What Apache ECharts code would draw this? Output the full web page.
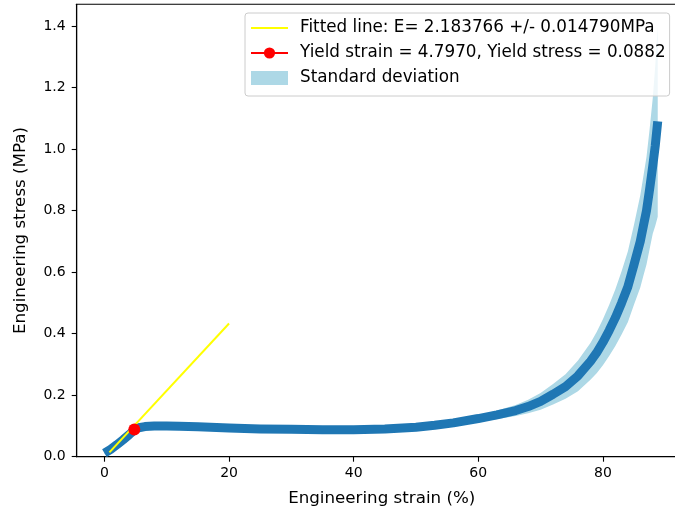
<!DOCTYPE html>
<html>
<head>
<meta charset="utf-8">
<script src="https://cdn.jsdelivr.net/npm/echarts@6/dist/echarts.min.js"></script>
<style>
html,body{margin:0;padding:0;background:#fff;}
#chart{width:675px;height:515px;}
</style>
</head>
<body>
<div id="chart"></div>
<script>
// ---- data ----
const strain = [0, 1, 2, 3, 4, 4.8, 5.5, 6.5, 8, 10, 12, 15, 20, 25, 30, 35, 40, 45, 50, 53, 56, 60, 63, 66, 68, 70, 72, 74, 76, 78, 79, 80, 81, 82, 83, 84, 85, 86, 86.5, 87, 87.5, 88, 88.4, 88.8];
const meanStress = [0.012, 0.024, 0.039, 0.055, 0.072, 0.087, 0.094, 0.098, 0.100, 0.100, 0.099, 0.097, 0.093, 0.090, 0.089, 0.088, 0.088, 0.090, 0.096, 0.102, 0.110, 0.124, 0.136, 0.150, 0.163, 0.180, 0.203, 0.228, 0.263, 0.310, 0.338, 0.372, 0.410, 0.452, 0.500, 0.552, 0.625, 0.700, 0.750, 0.800, 0.870, 0.945, 1.010, 1.090];
const stdStress = [0.004, 0.008, 0.014, 0.018, 0.018, 0.015, 0.010, 0.006, 0.004, 0.003, 0.003, 0.003, 0.003, 0.003, 0.003, 0.003, 0.003, 0.003, 0.003, 0.004, 0.006, 0.010, 0.014, 0.018, 0.022, 0.027, 0.033, 0.040, 0.050, 0.060, 0.067, 0.075, 0.083, 0.092, 0.103, 0.115, 0.130, 0.150, 0.162, 0.175, 0.195, 0.220, 0.260, 0.310];
const fitStrain = [0.8, 20];
const fitStress = [0.014, 0.433];
const yieldStrain = [4.797];
const yieldStress = [0.0882];
const xTicks = [0, 20, 40, 60, 80];
const yTicks = [0, 0.2, 0.4, 0.6, 0.8, 1.0, 1.2, 1.4];

const fitName = 'Fitted line: E= 2.183766 +/- 0.014790MPa';
const yieldName = 'Yield strain = 4.7970, Yield stress = 0.0882';
const stdName = 'Standard deviation';

const FONT = 'DejaVu Sans';

const meanData = strain.map((x, i) => [x, meanStress[i]]);
const fitData = fitStrain.map((x, i) => [x, fitStress[i]]);
const yieldData = yieldStrain.map((x, i) => [x, yieldStress[i]]);

const chart = echarts.init(document.getElementById('chart'), null, {renderer: 'canvas'});
chart.setOption({
  animation: false,
  backgroundColor: '#fff',
  textStyle: {fontFamily: FONT},
  grid: {
    left: 76.7, top: 4.3, width: 610, height: 452.4,
    outerBoundsMode: 'none', containLabel: false,
    show: true, borderColor: '#000', borderWidth: 1.1, backgroundColor: 'transparent'
  },
  xAxis: {
    type: 'value', min: -4.45, max: 93.45,
    name: 'Engineering strain (%)', nameLocation: 'middle', nameGap: 33,
    nameTextStyle: {fontFamily: FONT, fontSize: 16.7, color: '#000'},
    axisLine: {show: true, onZero: false, lineStyle: {color: '#000', width: 1.1}},
    axisTick: {show: true, length: 5, lineStyle: {color: '#000', width: 1.1}, customValues: xTicks},
    axisLabel: {fontFamily: FONT, fontSize: 14, color: '#000', margin: 10, customValues: xTicks},
    splitLine: {show: false}
  },
  yAxis: {
    type: 'value', min: 0, max: 1.4706,
    name: 'Engineering stress (MPa)', nameLocation: 'middle', nameGap: 48, nameRotate: 90,
    nameTextStyle: {fontFamily: FONT, fontSize: 16.7, color: '#000'},
    axisLine: {show: true, onZero: false, lineStyle: {color: '#000', width: 1.1}},
    axisTick: {show: true, length: 5, lineStyle: {color: '#000', width: 1.1}, customValues: yTicks},
    axisLabel: {fontFamily: FONT, fontSize: 14, color: '#000', margin: 11, customValues: yTicks,
      formatter: v => v.toFixed(1)},
    splitLine: {show: false}
  },
  legend: {
    show: true, orient: 'vertical', left: 245, top: 13,
    padding: [6.5, 4, 9.5, 5], itemGap: 8, itemWidth: 37, itemHeight: 14,
    backgroundColor: 'rgba(255,255,255,0.8)', borderColor: '#cccccc', borderWidth: 1, borderRadius: 3,
    textStyle: {fontFamily: FONT, fontSize: 16.8, color: '#000', padding: [0, 0, 0, 7]},
    data: [
      {name: fitName, icon: 'path://M0,0 L0.01,0 L0.01,0.01 Z M0,6 L37,6 L37,8 L0,8 Z M36.99,13.99 L37,14 L36.99,14 Z',
       itemStyle: {color: '#ffff00'}},
      {name: yieldName},
      {name: stdName, icon: 'rect', itemStyle: {color: '#add8e6'}}
    ],
    z: 20
  },
  series: [
    {
      name: stdName, type: 'custom', coordinateSystem: 'cartesian2d', clip: true,
      data: [[0, 0]], encode: {x: 0, y: 1}, silent: true, z: 1,
      itemStyle: {color: '#add8e6'},
      renderItem: function (params, api) {
        const up = strain.map((x, i) => api.coord([x, meanStress[i] + stdStress[i]]));
        const lo = strain.map((x, i) => api.coord([x, Math.max(0, meanStress[i] - stdStress[i])])).reverse();
        return {
          type: 'polygon',
          shape: {points: up.concat(lo)},
          style: {fill: '#add8e6', stroke: null}
        };
      }
    },
    {
      name: 'mean', type: 'line', data: meanData, symbol: 'none', smooth: false,
      lineStyle: {color: '#1f77b4', width: 9, cap: 'butt', join: 'round'}, z: 2
    },
    {
      name: fitName, type: 'line', data: fitData, symbol: 'none',
      itemStyle: {color: '#ffff00'}, lineStyle: {color: '#ffff00', width: 2}, z: 3
    },
    {
      name: yieldName, type: 'line', data: yieldData, symbol: 'circle', symbolSize: 12, showSymbol: true,
      itemStyle: {color: '#ff0000'}, lineStyle: {color: '#ff0000', width: 2}, z: 4
    }
  ]
});
</script>
</body>
</html>
